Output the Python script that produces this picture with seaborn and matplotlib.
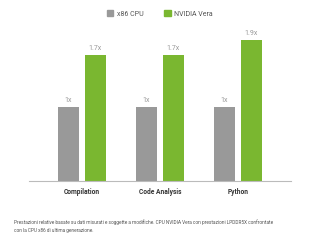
import pandas as pd
import matplotlib.pyplot as plt
import seaborn as sns

# --- Data ---
CATEGORIES = ['Compilation', 'Code Analysis', 'Python']
SERIES = ['x86 CPU', 'NVIDIA Vera']
X86_VALUES = [1.0, 1.0, 1.0]
VERA_VALUES = [1.7, 1.7, 1.9]
X86_LABELS = ['1x', '1x', '1x']
VERA_LABELS = ['1.7x', '1.7x', '1.9x']
COLORS = ['#999999', '#7ab730']
FOOTNOTE = ('Prestazioni relative basate su dati misurati e soggette a modifiche. '
            'CPU NVIDIA Vera con prestazioni LPDDR5X confrontate\n'
            'con la CPU x86 di ultima generazione.')

df = pd.DataFrame({
    'Category': CATEGORIES * 2,
    'Series': [SERIES[0]] * 3 + [SERIES[1]] * 3,
    'Value': X86_VALUES + VERA_VALUES,
})

sns.set_style('white')
plt.rcParams['font.family'] = ['Roboto', 'DejaVu Sans']

fig = plt.figure(figsize=(3.2, 2.44), dpi=100)
ax = fig.add_axes([29 / 320, 63 / 244, 262 / 320, 151 / 244])

sns.barplot(data=df, x='Category', y='Value', hue='Series', palette=COLORS,
            width=0.69, gap=0.22, ax=ax, legend=False, saturation=1, linewidth=0)

for container, labels in zip(ax.containers, [X86_LABELS, VERA_LABELS]):
    ax.bar_label(container, labels=labels, padding=2.5, fontsize=5, color='#999999')

ax.set_xlim(-0.68, 2.68)
ax.set_ylim(0, 2.04)
ax.set_xlabel('')
ax.set_ylabel('')
ax.set_yticks([])
ax.tick_params(axis='x', length=0, pad=5, labelsize=4.8, labelcolor='#333333')
for lbl in ax.get_xticklabels():
    lbl.set_fontweight('bold')
for side in ['top', 'left', 'right']:
    ax.spines[side].set_visible(False)
ax.spines['bottom'].set_color('#bbbbbb')
ax.spines['bottom'].set_linewidth(0.8)

handles = [plt.Rectangle((0, 0), 1, 1, color=c) for c in COLORS]
fig.legend(handles, SERIES, loc='center', bbox_to_anchor=(0.5, 1 - 14 / 244), ncol=2,
           frameon=False, fontsize=5, handlelength=0.9, handleheight=0.9,
           handletextpad=0.5, columnspacing=3, labelcolor='#555555')

fig.text(14 / 320, 1 - 219 / 244, FOOTNOTE, fontsize=3.4, color='#555555',
         va='top', ha='left', linespacing=1.7)

fig.savefig('out.png', dpi=100)
